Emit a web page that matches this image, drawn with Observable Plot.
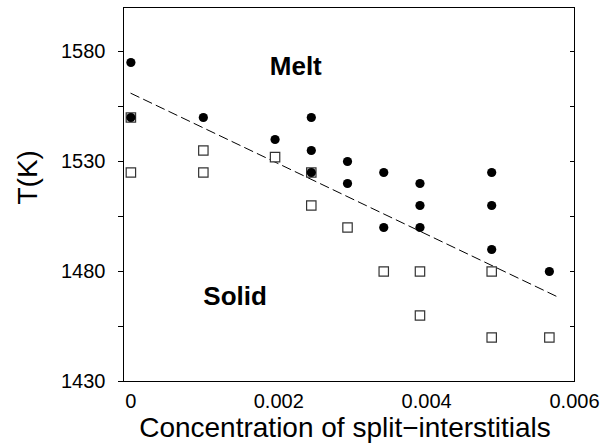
<!DOCTYPE html>
<html>
<head>
<meta charset="utf-8">
<script src="https://cdn.jsdelivr.net/npm/d3@7"></script>
<script src="https://cdn.jsdelivr.net/npm/@observablehq/plot@0.6"></script>
<style>
  html, body { margin: 0; padding: 0; background: #fff; }
  #chart svg { display: block; }
</style>
</head>
<body>
<div id="chart"></div>
<script>
// Melt points (filled circles)
const meltX = [0, 0, 0.00098, 0.00195, 0.00244, 0.00244, 0.00244, 0.00293, 0.00293, 0.00342, 0.00342, 0.00391, 0.00391, 0.00391, 0.00488, 0.00488, 0.00488, 0.00566];
const meltT = [1575, 1550, 1550, 1540, 1550, 1535, 1525, 1530, 1520, 1525, 1500, 1520, 1510, 1500, 1525, 1510, 1490, 1480];
// Solid points (open squares)
const solidX = [0, 0, 0.00098, 0.00098, 0.00195, 0.00244, 0.00244, 0.00293, 0.00342, 0.00391, 0.00391, 0.00488, 0.00488, 0.00566];
const solidT = [1550, 1525, 1535, 1525, 1532, 1525, 1510, 1500, 1480, 1480, 1460, 1480, 1450, 1450];
// Dashed boundary line endpoints
const lineX = [0, 0.0058];
const lineT = [1561, 1468];
// Tick values
const xTicks = [0, 0.002, 0.004, 0.006];
const yMajorTicks = [1430, 1480, 1530, 1580];
const yAllTicks = [1430, 1455, 1480, 1505, 1530, 1555, 1580];
// Region labels
const regionLabels = ["Melt", "Solid"];
const regionX = [0.00223, 0.00141];
const regionT = [1573, 1468.4];

const xTitle = "Concentration of split\u2212interstitials";
const yTitle = "T(K)";

const melt = meltX.map((x, i) => ({x, t: meltT[i]}));
const solid = solidX.map((x, i) => ({x, t: solidT[i]}));
const line = lineX.map((x, i) => ({x, t: lineT[i]}));
const regions = regionLabels.map((label, i) => ({label, x: regionX[i], t: regionT[i]}));

const chart = Plot.plot({
  width: 603,
  height: 446,
  marginLeft: 123,
  marginRight: 29,
  marginTop: 7,
  marginBottom: 65,
  style: {fontFamily: "'Liberation Sans', Arial, Helvetica, sans-serif", color: "#000", background: "#fff"},
  x: {domain: [-0.0001, 0.006]},
  y: {domain: [1430, 1600]},
  marks: [
    Plot.axisX({ticks: xTicks, tickSize: 0, tickPadding: 12, fontSize: 20, label: null,
      tickFormat: d => d === 0 ? "0" : d.toFixed(3)}),
    Plot.axisY({ticks: yAllTicks, tickSize: 5, tickPadding: 13, fontSize: 20, label: null,
      tickFormat: d => yMajorTicks.includes(d) ? String(d) : ""}),
    Plot.axisY({anchor: "right", ticks: yAllTicks, tickSize: 5, dx: -5, label: null, tickFormat: () => ""}),
    Plot.line(line, {x: "x", y: "t", stroke: "#000", strokeWidth: 1, strokeDasharray: "9,5"}),
    Plot.dot(solid, {x: "x", y: "t", symbol: "square", r: 5.3, fill: "#fff", stroke: "#333", strokeWidth: 1.2}),
    Plot.dot(melt, {x: "x", y: "t", symbol: "circle", r: 4.6, fill: "#000", stroke: "none"}),
    Plot.text(regions, {x: "x", y: "t", text: "label", fontSize: 26, fontWeight: "bold", fill: "#000"}),
    Plot.text([xTitle], {frameAnchor: "bottom", text: d => d, fontSize: 28, dy: 55, dx: -4, fill: "#000"}),
    Plot.text([yTitle], {frameAnchor: "left", text: d => d, fontSize: 28, rotate: -90, dx: -95, dy: 10, fill: "#000"}),
    Plot.frame({stroke: "#000", strokeWidth: 1})
  ]
});
document.getElementById("chart").appendChild(chart);
</script>
</body>
</html>
